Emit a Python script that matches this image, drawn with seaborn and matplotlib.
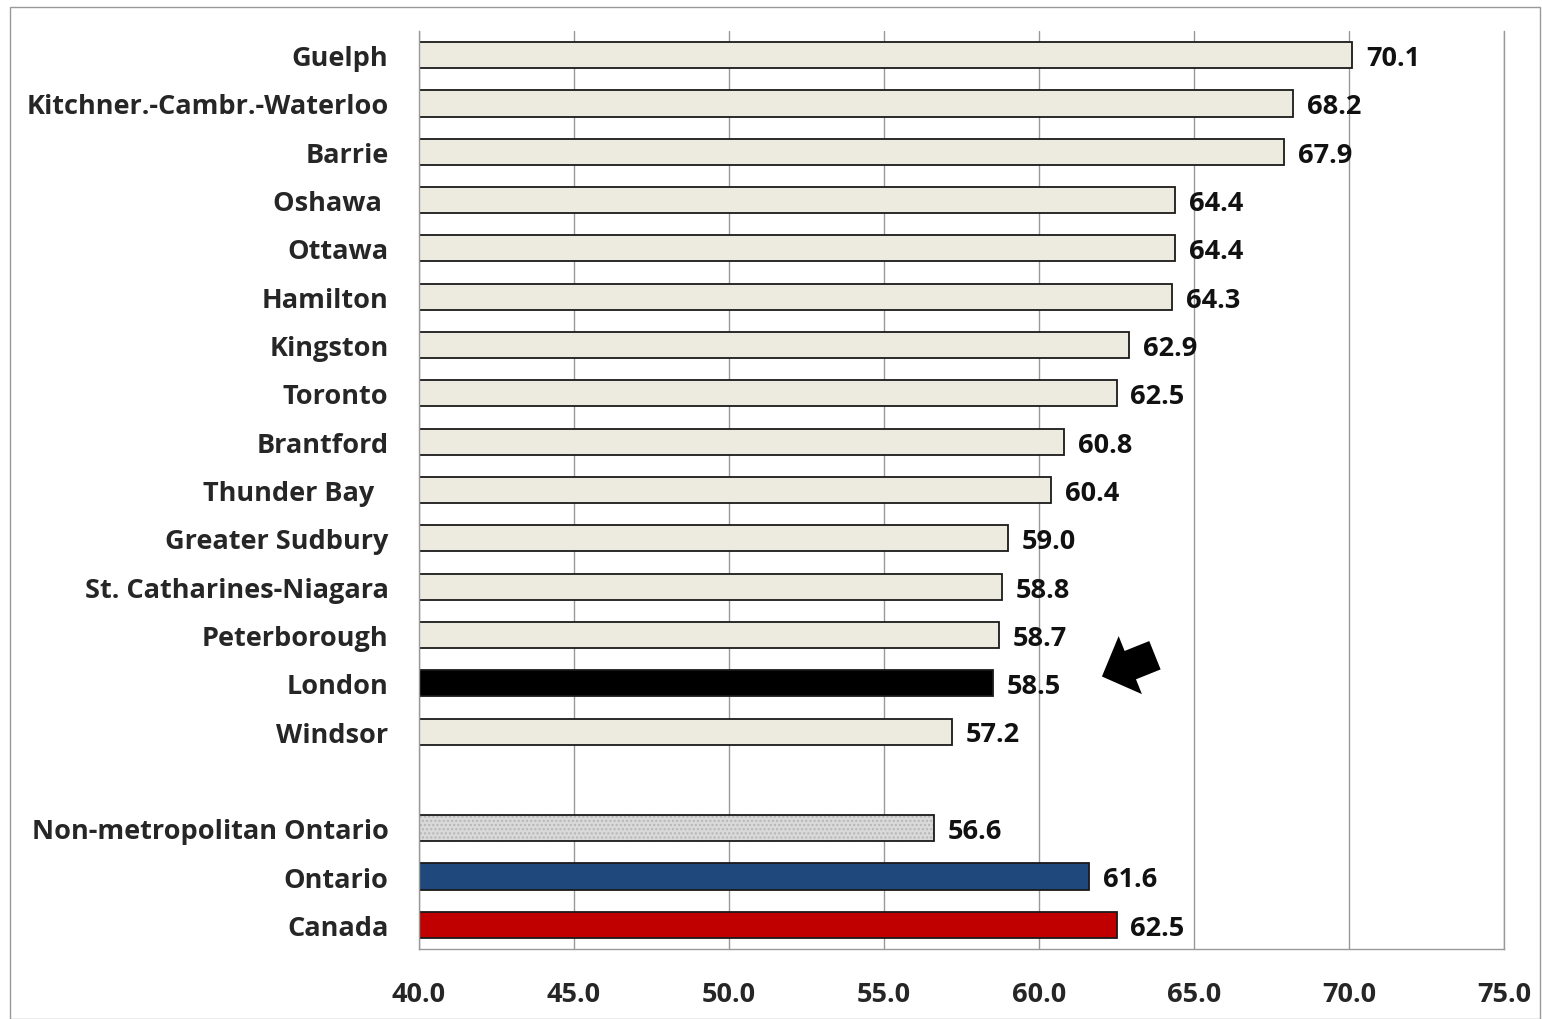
import matplotlib
matplotlib.use("Agg")
import matplotlib.pyplot as plt
import seaborn as sns
import pandas as pd
import numpy as np
from matplotlib.patches import Rectangle
from matplotlib.colors import to_rgb, to_rgba

cities = ["Guelph", "Kitchner.-Cambr.-Waterloo", "Barrie", "Oshawa ", "Ottawa", "Hamilton",
          "Kingston", "Toronto", "Brantford", "Thunder Bay  ", "Greater Sudbury",
          "St. Catharines-Niagara", "Peterborough", "London", "Windsor"]
city_values = [70.1, 68.2, 67.9, 64.4, 64.4, 64.3, 62.9, 62.5, 60.8, 60.4, 59.0, 58.8, 58.7, 58.5, 57.2]
regions = ["Non-metropolitan Ontario", "Ontario", "Canada"]
region_values = [56.6, 61.6, 62.5]
gap_label = " "
xticks = [40.0, 45.0, 50.0, 55.0, 60.0, 65.0, 70.0, 75.0]

order = cities + [gap_label] + regions
df = pd.DataFrame({"name": cities + regions, "value": city_values + region_values})

cream = "#EDEBE0"
palette = {c: cream for c in cities}
palette["London"] = "#000000"
palette["Non-metropolitan Ontario"] = "#D9D9D9"
palette["Ontario"] = "#1F497D"
palette["Canada"] = "#C00000"

sns.set_theme(style="white")
plt.rcParams["font.family"] = ["Open Sans", "DejaVu Sans"]
FS = 19.5

fig = plt.figure(figsize=(15.42, 10.20), dpi=100)
ax = fig.add_axes([419/1542, 1-950/1020, (1504-419)/1542, (950-32)/1020])

sns.barplot(data=df, x="value", y="name", hue="name", order=order, hue_order=cities + regions,
            palette=palette, legend=False, width=0.54, edgecolor="#1a1a1a", linewidth=1.3,
            saturation=1, ax=ax)

for p in ax.patches:
    w = p.get_width()
    if w and not np.isnan(w):
        p.set_width(w - 40.0)
        p.set_x(40.0)
        ax.text(w + 0.45, p.get_y() + p.get_height()/2 + 0.06, f"{w:.1f}",
                va="center", ha="left", fontsize=FS, fontweight="bold", color="#111111")
        if p.get_facecolor()[:3] == to_rgb("#D9D9D9"):
            p.set_hatch("....")
            p._hatch_color = to_rgba("#B5B5B5")

ax.set_xlim(40, 75)
ax.set_ylim(len(order) - 0.5, -0.5)
ax.set_xticks(xticks)
ax.set_xticklabels([f"{t:.1f}" for t in xticks], fontsize=FS, fontweight="bold")
ax.set_yticks(range(len(order)))
ax.set_yticklabels(order, fontsize=FS, fontweight="bold")
ax.set_yticks(np.arange(-0.5, len(order), 1.0), minor=True)
ax.tick_params(axis="y", which="major", length=0, pad=22)
ax.tick_params(axis="y", which="minor", length=9, color="#888888", width=1, direction="out")
ax.tick_params(axis="x", which="major", length=9, color="#888888", width=1, direction="out", pad=14)
ax.set_xlabel("")
ax.set_ylabel("")
ax.grid(axis="x", color="#999999", linewidth=1)
ax.set_axisbelow(True)
ax.spines["top"].set_visible(False)
for s in ["left", "bottom", "right"]:
    ax.spines[s].set_color("#999999")
    ax.spines[s].set_linewidth(1)

# block arrow pointing at London
ax.annotate("", xy=(62.03, 12.86), xytext=(63.74, 12.42),
            arrowprops=dict(arrowstyle="simple,head_length=1.1,head_width=2.25,tail_width=1.1",
                            color="black", lw=0, shrinkA=0, shrinkB=0, mutation_scale=20))

fig.patches.append(Rectangle((10/1542, 0), 1530/1542, 1-8/1020, transform=fig.transFigure,
                             fill=False, edgecolor="#999999", linewidth=1))

fig.savefig("out.png", dpi=100)
